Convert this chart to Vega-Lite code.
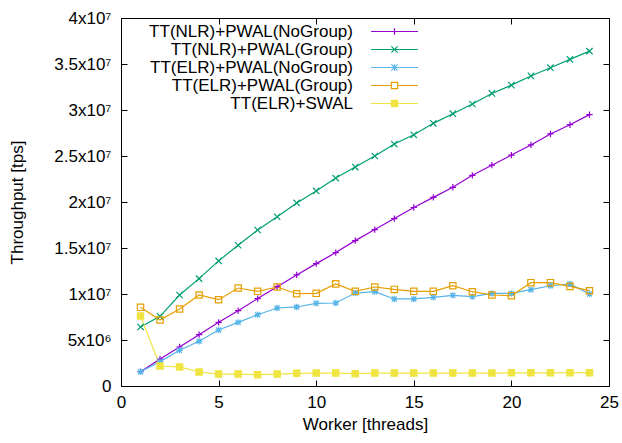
{
  "$schema": "https://vega.github.io/schema/vega-lite/v6.json",
  "width": 488,
  "height": 368,
  "autosize": {"type": "none"},
  "padding": {"left": 121, "top": 18, "right": 13, "bottom": 57},
  "config": {
    "font": "Liberation Sans",
    "view": {"stroke": "#000000", "strokeWidth": 1},
    "axis": {
      "grid": false,
      "domain": false,
      "tickColor": "#000000",
      "tickWidth": 1,
      "tickSize": 6,
      "offset": -6,
      "labelFontSize": 17,
      "labelColor": "#000000",
      "titleFontSize": 17,
      "titleFontWeight": "normal",
      "titleColor": "#000000"
    },
    "legend": {
      "labelFontSize": 17,
      "labelColor": "#000000",
      "labelLimit": 400
    }
  },
  "data": {
    "values": [
      {"w": 1, "s": "TT(NLR)+PWAL(NoGroup)", "y": 1550000},
      {"w": 2, "s": "TT(NLR)+PWAL(NoGroup)", "y": 2930000},
      {"w": 3, "s": "TT(NLR)+PWAL(NoGroup)", "y": 4240000},
      {"w": 4, "s": "TT(NLR)+PWAL(NoGroup)", "y": 5580000},
      {"w": 5, "s": "TT(NLR)+PWAL(NoGroup)", "y": 6920000},
      {"w": 6, "s": "TT(NLR)+PWAL(NoGroup)", "y": 8190000},
      {"w": 7, "s": "TT(NLR)+PWAL(NoGroup)", "y": 9500000},
      {"w": 8, "s": "TT(NLR)+PWAL(NoGroup)", "y": 10800000},
      {"w": 9, "s": "TT(NLR)+PWAL(NoGroup)", "y": 12070000},
      {"w": 10, "s": "TT(NLR)+PWAL(NoGroup)", "y": 13300000},
      {"w": 11, "s": "TT(NLR)+PWAL(NoGroup)", "y": 14500000},
      {"w": 12, "s": "TT(NLR)+PWAL(NoGroup)", "y": 15800000},
      {"w": 13, "s": "TT(NLR)+PWAL(NoGroup)", "y": 17000000},
      {"w": 14, "s": "TT(NLR)+PWAL(NoGroup)", "y": 18200000},
      {"w": 15, "s": "TT(NLR)+PWAL(NoGroup)", "y": 19400000},
      {"w": 16, "s": "TT(NLR)+PWAL(NoGroup)", "y": 20500000},
      {"w": 17, "s": "TT(NLR)+PWAL(NoGroup)", "y": 21600000},
      {"w": 18, "s": "TT(NLR)+PWAL(NoGroup)", "y": 22900000},
      {"w": 19, "s": "TT(NLR)+PWAL(NoGroup)", "y": 24000000},
      {"w": 20, "s": "TT(NLR)+PWAL(NoGroup)", "y": 25100000},
      {"w": 21, "s": "TT(NLR)+PWAL(NoGroup)", "y": 26200000},
      {"w": 22, "s": "TT(NLR)+PWAL(NoGroup)", "y": 27400000},
      {"w": 23, "s": "TT(NLR)+PWAL(NoGroup)", "y": 28400000},
      {"w": 24, "s": "TT(NLR)+PWAL(NoGroup)", "y": 29500000},
      {"w": 1, "s": "TT(NLR)+PWAL(Group)", "y": 6410000},
      {"w": 2, "s": "TT(NLR)+PWAL(Group)", "y": 7570000},
      {"w": 3, "s": "TT(NLR)+PWAL(Group)", "y": 9890000},
      {"w": 4, "s": "TT(NLR)+PWAL(Group)", "y": 11670000},
      {"w": 5, "s": "TT(NLR)+PWAL(Group)", "y": 13600000},
      {"w": 6, "s": "TT(NLR)+PWAL(Group)", "y": 15300000},
      {"w": 7, "s": "TT(NLR)+PWAL(Group)", "y": 16960000},
      {"w": 8, "s": "TT(NLR)+PWAL(Group)", "y": 18400000},
      {"w": 9, "s": "TT(NLR)+PWAL(Group)", "y": 19900000},
      {"w": 10, "s": "TT(NLR)+PWAL(Group)", "y": 21200000},
      {"w": 11, "s": "TT(NLR)+PWAL(Group)", "y": 22600000},
      {"w": 12, "s": "TT(NLR)+PWAL(Group)", "y": 23800000},
      {"w": 13, "s": "TT(NLR)+PWAL(Group)", "y": 25000000},
      {"w": 14, "s": "TT(NLR)+PWAL(Group)", "y": 26300000},
      {"w": 15, "s": "TT(NLR)+PWAL(Group)", "y": 27300000},
      {"w": 16, "s": "TT(NLR)+PWAL(Group)", "y": 28550000},
      {"w": 17, "s": "TT(NLR)+PWAL(Group)", "y": 29600000},
      {"w": 18, "s": "TT(NLR)+PWAL(Group)", "y": 30650000},
      {"w": 19, "s": "TT(NLR)+PWAL(Group)", "y": 31800000},
      {"w": 20, "s": "TT(NLR)+PWAL(Group)", "y": 32700000},
      {"w": 21, "s": "TT(NLR)+PWAL(Group)", "y": 33700000},
      {"w": 22, "s": "TT(NLR)+PWAL(Group)", "y": 34600000},
      {"w": 23, "s": "TT(NLR)+PWAL(Group)", "y": 35500000},
      {"w": 24, "s": "TT(NLR)+PWAL(Group)", "y": 36400000},
      {"w": 1, "s": "TT(ELR)+PWAL(NoGroup)", "y": 1550000},
      {"w": 2, "s": "TT(ELR)+PWAL(NoGroup)", "y": 2650000},
      {"w": 3, "s": "TT(ELR)+PWAL(NoGroup)", "y": 3880000},
      {"w": 4, "s": "TT(ELR)+PWAL(NoGroup)", "y": 4860000},
      {"w": 5, "s": "TT(ELR)+PWAL(NoGroup)", "y": 6090000},
      {"w": 6, "s": "TT(ELR)+PWAL(NoGroup)", "y": 6920000},
      {"w": 7, "s": "TT(ELR)+PWAL(NoGroup)", "y": 7750000},
      {"w": 8, "s": "TT(ELR)+PWAL(NoGroup)", "y": 8480000},
      {"w": 9, "s": "TT(ELR)+PWAL(NoGroup)", "y": 8590000},
      {"w": 10, "s": "TT(ELR)+PWAL(NoGroup)", "y": 8990000},
      {"w": 11, "s": "TT(ELR)+PWAL(NoGroup)", "y": 9020000},
      {"w": 12, "s": "TT(ELR)+PWAL(NoGroup)", "y": 10100000},
      {"w": 13, "s": "TT(ELR)+PWAL(NoGroup)", "y": 10250000},
      {"w": 14, "s": "TT(ELR)+PWAL(NoGroup)", "y": 9460000},
      {"w": 15, "s": "TT(ELR)+PWAL(NoGroup)", "y": 9460000},
      {"w": 16, "s": "TT(ELR)+PWAL(NoGroup)", "y": 9640000},
      {"w": 17, "s": "TT(ELR)+PWAL(NoGroup)", "y": 9860000},
      {"w": 18, "s": "TT(ELR)+PWAL(NoGroup)", "y": 9710000},
      {"w": 19, "s": "TT(ELR)+PWAL(NoGroup)", "y": 10070000},
      {"w": 20, "s": "TT(ELR)+PWAL(NoGroup)", "y": 10070000},
      {"w": 21, "s": "TT(ELR)+PWAL(NoGroup)", "y": 10470000},
      {"w": 22, "s": "TT(ELR)+PWAL(NoGroup)", "y": 10900000},
      {"w": 23, "s": "TT(ELR)+PWAL(NoGroup)", "y": 11100000},
      {"w": 24, "s": "TT(ELR)+PWAL(NoGroup)", "y": 10000000},
      {"w": 1, "s": "TT(ELR)+PWAL(Group)", "y": 8550000},
      {"w": 2, "s": "TT(ELR)+PWAL(Group)", "y": 7170000},
      {"w": 3, "s": "TT(ELR)+PWAL(Group)", "y": 8370000},
      {"w": 4, "s": "TT(ELR)+PWAL(Group)", "y": 9890000},
      {"w": 5, "s": "TT(ELR)+PWAL(Group)", "y": 9380000},
      {"w": 6, "s": "TT(ELR)+PWAL(Group)", "y": 10650000},
      {"w": 7, "s": "TT(ELR)+PWAL(Group)", "y": 10290000},
      {"w": 8, "s": "TT(ELR)+PWAL(Group)", "y": 10760000},
      {"w": 9, "s": "TT(ELR)+PWAL(Group)", "y": 10030000},
      {"w": 10, "s": "TT(ELR)+PWAL(Group)", "y": 10070000},
      {"w": 11, "s": "TT(ELR)+PWAL(Group)", "y": 11100000},
      {"w": 12, "s": "TT(ELR)+PWAL(Group)", "y": 10290000},
      {"w": 13, "s": "TT(ELR)+PWAL(Group)", "y": 10760000},
      {"w": 14, "s": "TT(ELR)+PWAL(Group)", "y": 10500000},
      {"w": 15, "s": "TT(ELR)+PWAL(Group)", "y": 10290000},
      {"w": 16, "s": "TT(ELR)+PWAL(Group)", "y": 10290000},
      {"w": 17, "s": "TT(ELR)+PWAL(Group)", "y": 10900000},
      {"w": 18, "s": "TT(ELR)+PWAL(Group)", "y": 10250000},
      {"w": 19, "s": "TT(ELR)+PWAL(Group)", "y": 9890000},
      {"w": 20, "s": "TT(ELR)+PWAL(Group)", "y": 9820000},
      {"w": 21, "s": "TT(ELR)+PWAL(Group)", "y": 11230000},
      {"w": 22, "s": "TT(ELR)+PWAL(Group)", "y": 11230000},
      {"w": 23, "s": "TT(ELR)+PWAL(Group)", "y": 10830000},
      {"w": 24, "s": "TT(ELR)+PWAL(Group)", "y": 10360000},
      {"w": 1, "s": "TT(ELR)+SWAL", "y": 7600000},
      {"w": 2, "s": "TT(ELR)+SWAL", "y": 2170000},
      {"w": 3, "s": "TT(ELR)+SWAL", "y": 2070000},
      {"w": 4, "s": "TT(ELR)+SWAL", "y": 1520000},
      {"w": 5, "s": "TT(ELR)+SWAL", "y": 1300000},
      {"w": 6, "s": "TT(ELR)+SWAL", "y": 1300000},
      {"w": 7, "s": "TT(ELR)+SWAL", "y": 1230000},
      {"w": 8, "s": "TT(ELR)+SWAL", "y": 1300000},
      {"w": 9, "s": "TT(ELR)+SWAL", "y": 1380000},
      {"w": 10, "s": "TT(ELR)+SWAL", "y": 1410000},
      {"w": 11, "s": "TT(ELR)+SWAL", "y": 1410000},
      {"w": 12, "s": "TT(ELR)+SWAL", "y": 1340000},
      {"w": 13, "s": "TT(ELR)+SWAL", "y": 1410000},
      {"w": 14, "s": "TT(ELR)+SWAL", "y": 1410000},
      {"w": 15, "s": "TT(ELR)+SWAL", "y": 1410000},
      {"w": 16, "s": "TT(ELR)+SWAL", "y": 1410000},
      {"w": 17, "s": "TT(ELR)+SWAL", "y": 1410000},
      {"w": 18, "s": "TT(ELR)+SWAL", "y": 1410000},
      {"w": 19, "s": "TT(ELR)+SWAL", "y": 1410000},
      {"w": 20, "s": "TT(ELR)+SWAL", "y": 1430000},
      {"w": 21, "s": "TT(ELR)+SWAL", "y": 1430000},
      {"w": 22, "s": "TT(ELR)+SWAL", "y": 1430000},
      {"w": 23, "s": "TT(ELR)+SWAL", "y": 1450000},
      {"w": 24, "s": "TT(ELR)+SWAL", "y": 1450000}
    ]
  },
  "resolve": {"axis": {"x": "independent", "y": "independent"}},
  "layer": [
    {
      "mark": {"type": "line", "strokeWidth": 1.2},
      "encoding": {
        "x": {
          "field": "w", "type": "quantitative",
          "scale": {"domain": [0, 25], "nice": false},
          "axis": {"values": [0, 5, 10, 15, 20, 25], "title": "Worker [threads]", "labelPadding": 8, "titlePadding": 6, "labelFlush": false}
        },
        "y": {
          "field": "y", "type": "quantitative",
          "scale": {"domain": [0, 40000000], "nice": false},
          "axis": {
            "values": [0, 5000000, 10000000, 15000000, 20000000, 25000000, 30000000, 35000000, 40000000],
            "labelExpr": "datum.value == 0 ? '0' : (datum.value < 10000000 ? '5x10⁶' : (datum.value / 10000000) + 'x10⁷')",
            "title": "Throughput [tps]",
            "labelPadding": 10,
            "titlePadding": 27,
            "labelFlush": false
          }
        },
        "color": {
          "field": "s", "type": "nominal",
          "scale": {
            "domain": ["TT(NLR)+PWAL(NoGroup)", "TT(NLR)+PWAL(Group)", "TT(ELR)+PWAL(NoGroup)", "TT(ELR)+PWAL(Group)", "TT(ELR)+SWAL"],
            "range": ["#9400D3", "#009E73", "#56B4E9", "#E69F00", "#F0E442"]
          },
          "legend": {
            "title": null,
            "orient": "none",
            "legendX": 265,
            "legendY": 5,
            "padding": 0,
            "rowPadding": 0,
            "symbolSize": 40,
            "symbolStrokeWidth": 1.3,
            "symbolOffset": 0,
            "labelOffset": -50,
            "labelAlign": "right",
            "labelFontSize": 17,
            "encode": {
              "symbols": {
                "update": {
                  "shape": {"signal": "datum.value === 'TT(NLR)+PWAL(NoGroup)' ? 'M-7.4,0H7.4M0,-1V1' : datum.value === 'TT(NLR)+PWAL(Group)' ? 'M-7.4,0H7.4M-1,-1L1,1M-1,1L1,-1' : datum.value === 'TT(ELR)+PWAL(NoGroup)' ? 'M-7.4,0H7.4M0,-1V1M-1,-1L1,1M-1,1L1,-1' : datum.value === 'TT(ELR)+PWAL(Group)' ? 'M-7.4,0H-1M1,0H7.4M-1,-1H1V1H-1Z' : 'M-7.4,0H7.4M-1,-1H1V1H-1Z'"},
                  "fill": {"signal": "datum.value === 'TT(ELR)+SWAL' ? '#F0E442' : 'transparent'"},
                  "opacity": {"value": 1}
                }
              }
            }
          }
        },
        "strokeWidth": {
          "field": "s", "type": "nominal",
          "scale": {
            "domain": ["TT(NLR)+PWAL(NoGroup)", "TT(NLR)+PWAL(Group)", "TT(ELR)+PWAL(NoGroup)", "TT(ELR)+PWAL(Group)", "TT(ELR)+SWAL"],
            "range": [1.2, 1.2, 1.8, 1.3, 1.2]
          },
          "legend": null
        }
      }
    },
    {
      "transform": [{"filter": "datum.s === 'TT(NLR)+PWAL(NoGroup)'"}],
      "mark": {"type": "point", "shape": "M-1,0H1M0,-1V1", "filled": false, "size": 40, "strokeWidth": 1.2, "opacity": 1},
      "encoding": {
        "x": {
          "field": "w", "type": "quantitative",
          "axis": {"orient": "top", "values": [0, 5, 10, 15, 20, 25], "labels": false, "title": null}
        },
        "y": {
          "field": "y", "type": "quantitative",
          "axis": {"orient": "right", "values": [0, 5000000, 10000000, 15000000, 20000000, 25000000, 30000000, 35000000, 40000000], "labels": false, "title": null}
        },
        "color": {"field": "s", "type": "nominal"}
      }
    },
    {
      "transform": [{"filter": "datum.s === 'TT(NLR)+PWAL(Group)'"}],
      "mark": {"type": "point", "shape": "M-1,-1L1,1M-1,1L1,-1", "filled": false, "size": 40, "strokeWidth": 1.2, "opacity": 1},
      "encoding": {
        "x": {"field": "w", "type": "quantitative", "axis": null},
        "y": {"field": "y", "type": "quantitative", "axis": null},
        "color": {"field": "s", "type": "nominal"}
      }
    },
    {
      "transform": [{"filter": "datum.s === 'TT(ELR)+PWAL(NoGroup)'"}],
      "mark": {"type": "point", "shape": "M-1,0H1M0,-1V1M-0.8,-0.8L0.8,0.8M-0.8,0.8L0.8,-0.8", "filled": false, "size": 40, "strokeWidth": 1.2, "opacity": 1},
      "encoding": {
        "x": {"field": "w", "type": "quantitative", "axis": null},
        "y": {"field": "y", "type": "quantitative", "axis": null},
        "color": {"field": "s", "type": "nominal"}
      }
    },
    {
      "transform": [{"filter": "datum.s === 'TT(ELR)+PWAL(Group)'"}],
      "mark": {"type": "point", "shape": "square", "filled": false, "size": 40, "strokeWidth": 1.2, "opacity": 1},
      "encoding": {
        "x": {"field": "w", "type": "quantitative", "axis": null},
        "y": {"field": "y", "type": "quantitative", "axis": null},
        "color": {"field": "s", "type": "nominal"}
      }
    },
    {
      "transform": [{"filter": "datum.s === 'TT(ELR)+SWAL'"}],
      "mark": {"type": "point", "shape": "square", "filled": false, "fill": "#F0E442", "size": 40, "strokeWidth": 1.2, "opacity": 1},
      "encoding": {
        "x": {"field": "w", "type": "quantitative", "axis": null},
        "y": {"field": "y", "type": "quantitative", "axis": null},
        "color": {"field": "s", "type": "nominal"}
      }
    }
  ]
}
